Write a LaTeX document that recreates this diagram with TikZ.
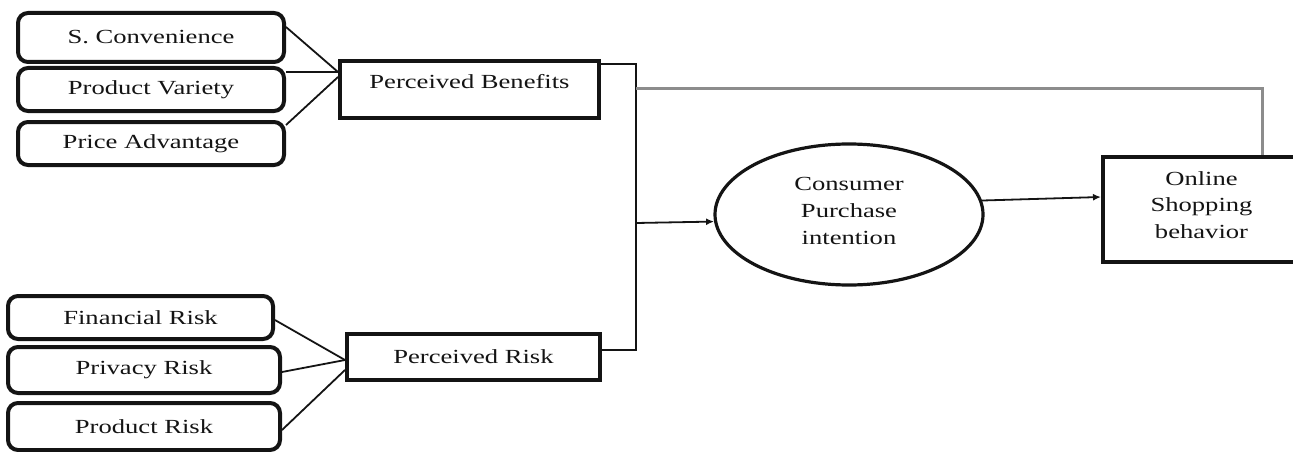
\documentclass[tikz,border=0pt]{standalone}
\usepackage{fontspec}
\setmainfont[FakeStretch=1.33]{Liberation Serif}
\usetikzlibrary{shapes.geometric,arrows.meta}
\definecolor{ink}{HTML}{141414}
\definecolor{greyline}{HTML}{8C8C8C}
\begin{document}
\begin{tikzpicture}[x=1pt,y=-1pt,
  every node/.style={text=ink},
  rbox/.style={draw=ink, line width=4pt, rounded corners=10pt, inner sep=0pt,
    font=\fontsize{20}{24}\selectfont},
  sbox/.style={draw=ink, line width=4pt, inner sep=0pt,
    font=\fontsize{20}{24}\selectfont},
  conn/.style={draw=ink, line width=1.8pt},
  arr/.style={draw=ink, line width=1.8pt, -{Latex[length=8pt,width=7pt]}},
  grey/.style={draw=greyline, line width=3pt}
]
\useasboundingbox (0,0) rectangle (1293,452);

% benefit antecedents
\node[rbox, minimum width=266pt, minimum height=49pt] (sc) at (151,37.5) {S. Convenience};
\node[rbox, minimum width=266pt, minimum height=43pt] (pv) at (151,89.5) {Product Variety};
\node[rbox, minimum width=266pt, minimum height=43pt] (pa) at (151,143.5) {Price Advantage};

% risk antecedents
\node[rbox, minimum width=265pt, minimum height=43pt] (fr) at (140.5,317.5) {Financial Risk};
\node[rbox, minimum width=272pt, minimum height=46pt] (prv) at (144,370) {Privacy Risk};
\node[rbox, minimum width=272pt, minimum height=47pt] (prd) at (144,426.5) {Product Risk};

% mediators
\node[sbox, minimum width=259pt, text height=27.5pt, text depth=29.5pt] (pb) at (469.5,89.5) {Perceived Benefits};
\node[sbox, minimum width=253pt, minimum height=46pt] (pr) at (473.5,357) {Perceived Risk};

% intention
\node[draw=ink, line width=3.2pt, ellipse, minimum width=268pt, minimum height=141pt, inner sep=0pt,
  align=center, text depth=8pt, font=\fontsize{20}{27}\selectfont] (ci) at (849,214.5) {Consumer\\Purchase\\intention};

% behaviour
\node[sbox, minimum width=197pt, minimum height=105pt, align=center, text depth=9pt,
  font=\fontsize{20}{26.5}\selectfont] (osb) at (1201.5,209.5) {Online\\Shopping\\behavior};

% fan-in lines
\draw[conn] ([yshift=10.5pt]sc.east) -- ([yshift=17.5pt]pb.west);
\draw[conn] ([yshift=17.5pt]pv.east) -- ([yshift=17.5pt]pb.west);
\draw[conn] ([yshift=18.5pt]pa.east) -- ([yshift=12.5pt]pb.west);

\draw[conn] ([yshift=-2.5pt]fr.east) -- ([yshift=-3pt]pr.west);
\draw[conn] ([yshift=-2pt]prv.east) -- ([yshift=-3pt]pr.west);
\draw[conn] ([yshift=-3.5pt]prd.east) -- ([yshift=-13pt]pr.west);

% junction
\coordinate (j1) at (636,64);
\coordinate (j2) at (636,350);
\coordinate (jm) at (636,223);
\coordinate (jg) at (636,88);
\coordinate (gt) at (1262,88);

\draw[conn] ([yshift=25.5pt]pb.east) -- (j1) -- (j2) -- ([yshift=7pt]pr.east);
\draw[arr] (jm) -- (ci.183);
\draw[arr] (ci.6) -- ([yshift=12.5pt]osb.west);
\draw[grey] (jg) -- (gt) -- (osb.north -| gt);
\end{tikzpicture}
\end{document}
